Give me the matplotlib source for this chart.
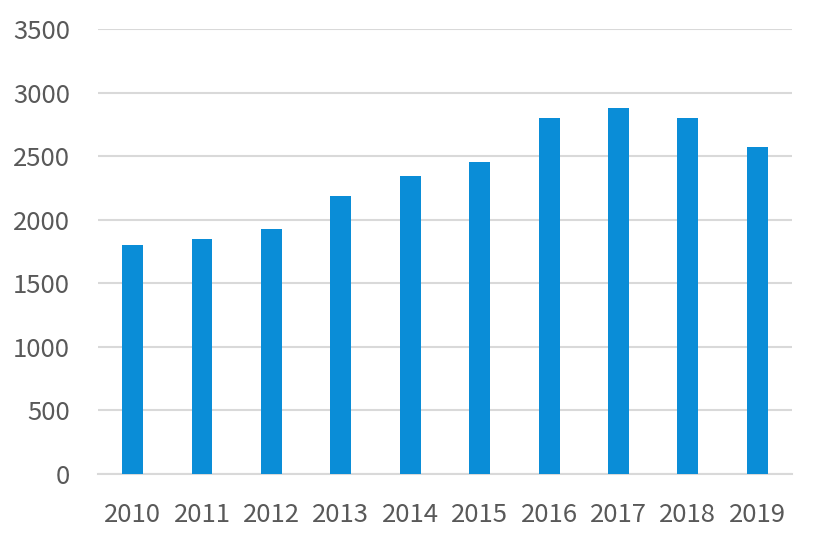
import matplotlib.pyplot as plt

plt.rcParams['font.family'] = ['Noto Sans CJK SC', 'DejaVu Sans']

years = ['2010', '2011', '2012', '2013', '2014', '2015', '2016', '2017', '2018', '2019']
values = [1800, 1850, 1930, 2190, 2340, 2450, 2800, 2880, 2800, 2570]

fig = plt.figure(figsize=(8.15, 5.44), dpi=100)
ax = fig.add_axes([0.1202, 0.1287, 0.8516, 0.818])

ax.bar(range(len(years)), values, width=0.3, color='#0a8dd7', zorder=3)

ax.set_xlim(-0.5, len(years) - 0.5)
ax.set_ylim(0, 3500)
ax.set_yticks(range(0, 3501, 500))
ax.set_xticks(range(len(years)))
ax.set_xticklabels(years)

ax.grid(axis='y', color='#d9d9d9', linewidth=1.5, zorder=0)
for s in ['top', 'right', 'left']:
    ax.spines[s].set_visible(False)
ax.spines['bottom'].set_color('#d9d9d9')
ax.spines['bottom'].set_linewidth(1.5)

ax.tick_params(axis='both', length=0, labelsize=18.5, labelcolor='#595959')
ax.tick_params(axis='y', pad=20)
ax.tick_params(axis='x', pad=20)

fig.savefig('out.png', dpi=100)
